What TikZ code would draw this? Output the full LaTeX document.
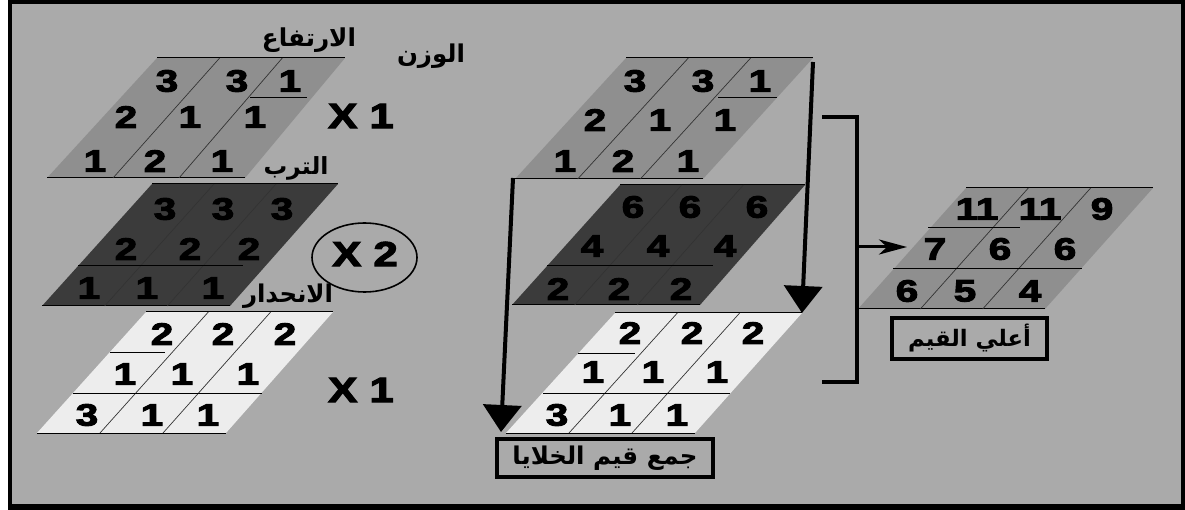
\documentclass[tikz,border=0pt]{standalone}
\usepackage{fontspec}
\setmainfont{Liberation Sans}
\newfontfamily\digfont{Liberation Sans}[BoldFont={Liberation Sans Bold}, BoldFeatures={FakeBold=3}]
\newfontfamily\arabicfont[Script=Arabic]{DejaVu Sans}
\TeXXeTstate=1
\usetikzlibrary{arrows.meta,calc,shapes.geometric}
\definecolor{bgc}{gray}{0.665}
\definecolor{midc}{gray}{0.56}
\definecolor{darkc}{gray}{0.23}
\definecolor{lightc}{gray}{0.93}
\definecolor{colc}{gray}{0.2}
\newcommand{\dgt}[4]{\node[dig] (#1) at (#2,#3) {\scalebox{1.3}[1]{#4}};}
% name, fill, xtl, xtr, ytop, xbl, xbr, ybot
\newcommand{\pgram}[8]{%
  \fill[#2] (#3,#5) -- (#4,#5) -- (#7,#8) -- (#6,#8) -- cycle;
  \draw[edge] (#3,#5) -- (#4,#5);
  \draw[edge] (#6,#8) -- (#7,#8);
  \draw[colline] ($(#3,#5)!1/3!(#4,#5)$) -- ($(#6,#8)!1/3!(#7,#8)$);
  \draw[colline] ($(#3,#5)!2/3!(#4,#5)$) -- ($(#6,#8)!2/3!(#7,#8)$);
}
\tikzset{
  dig/.style={inner sep=0pt, font=\fontsize{31}{33}\digfont\bfseries},
  xlab/.style={inner sep=0pt, font=\fontsize{35}{37}\digfont\bfseries},
  lab/.style={inner sep=0pt, font=\arabicfont\bfseries},
  edge/.style={line width=1pt, black},
  colline/.style={line width=0.7pt, colc},
  rowline/.style={line width=1pt, black},
  bigarrow/.style={line width=4pt, -{Triangle[width=38pt,length=27pt]}},
  smallarrow/.style={line width=3pt, -{Stealth[width=15pt,length=28pt,inset=8pt]}},
  bracket/.style={line width=3.5pt},
  lbox/.style={draw, line width=3.5pt, fill=bgc, inner sep=0pt},
}
\begin{document}
\begin{tikzpicture}[x=1pt,y=-1pt]
% frame
\fill[white] (0,0) rectangle (1185,510);
\fill[black] (8,0) rectangle (1185,510);
\fill[bgc] (12,4) rectangle (1181,504);
\useasboundingbox (0,0) rectangle (1185,510);

% left stack
\pgram{L1}{midc}{157}{345}{58}{47}{245}{178}
\draw[rowline] (250,98) -- (307,98);
\pgram{L2}{darkc}{152}{338}{184}{42}{230}{306}
\draw[rowline] (78,266) -- (243,266);
\pgram{L3}{lightc}{146}{333}{312}{37}{226}{433}
\draw[rowline] (110,352) -- (165,352);
\draw[rowline] (73,393) -- (262,393);

\dgt{La1}{167}{81}{3} \dgt{La2}{237}{81}{3} \dgt{La3}{290}{81}{1}
\dgt{La4}{126}{117}{2} \dgt{La5}{190}{117}{1} \dgt{La6}{255}{117}{1}
\dgt{La7}{95}{161}{1} \dgt{La8}{155}{161}{2} \dgt{La9}{222}{161}{1}

\dgt{Lb1}{165}{209}{3} \dgt{Lb2}{223}{209}{3} \dgt{Lb3}{282}{209}{3}
\dgt{Lb4}{126}{249}{2} \dgt{Lb5}{190}{249}{2} \dgt{Lb6}{249}{249}{2}
\dgt{Lb7}{89}{288}{1} \dgt{Lb8}{147}{288}{1} \dgt{Lb9}{213}{288}{1}

\dgt{Lc1}{162}{334}{2} \dgt{Lc2}{223}{334}{2} \dgt{Lc3}{285}{334}{2}
\dgt{Lc4}{125}{374}{1} \dgt{Lc5}{182}{374}{1} \dgt{Lc6}{248}{374}{1}
\dgt{Lc7}{87}{415}{3} \dgt{Lc8}{152}{415}{1} \dgt{Lc9}{208}{415}{1}

% labels
\node[lab] (tIrt) at (309,40) {\resizebox{94pt}{!}{\beginR الارتفاع\endR}};
\node[lab] (tWzn) at (431,56) {\resizebox{68pt}{!}{\beginR الوزن\endR}};
\node[lab] (tTrb) at (296,168) {\resizebox{65pt}{!}{\beginR الترب\endR}};
\node[lab] (tInh) at (288,296) {\resizebox{90pt}{!}{\beginR الانحدار\endR}};

% multipliers
\node[xlab] (m1) at (361,116) {\scalebox{1.25}[1]{X 1}};
\node[ellipse, draw, line width=1.6pt, minimum width=105pt, minimum height=69pt, inner sep=0pt] (circ) at (364.5,257.5) {};
\node[xlab] (m2) at (365,254) {\scalebox{1.25}[1]{X 2}};
\node[xlab] (m3) at (361,390) {\scalebox{1.25}[1]{X 1}};

% middle stack
\pgram{M1}{midc}{626}{813}{58}{515}{703}{179}
\draw[rowline] (718,98) -- (777,98);
\pgram{M2}{darkc}{620}{805}{185}{512}{700}{305}
\draw[rowline] (547,266) -- (713,266);
\pgram{M3}{lightc}{615}{802}{313}{506}{695}{433}
\draw[rowline] (578,353) -- (635,353);
\draw[rowline] (543,393) -- (730,393);

\dgt{Ma1}{635}{81}{3} \dgt{Ma2}{703}{81}{3} \dgt{Ma3}{760}{81}{1}
\dgt{Ma4}{595}{120}{2} \dgt{Ma5}{660}{120}{1} \dgt{Ma6}{725}{120}{1}
\dgt{Ma7}{565}{161}{1} \dgt{Ma8}{623}{161}{2} \dgt{Ma9}{688}{161}{1}

\dgt{Mb1}{633}{207}{6} \dgt{Mb2}{690}{207}{6} \dgt{Mb3}{757}{207}{6}
\dgt{Mb4}{592}{246}{4} \dgt{Mb5}{658}{246}{4} \dgt{Mb6}{725}{246}{4}
\dgt{Mb7}{558}{289}{2} \dgt{Mb8}{619}{289}{2} \dgt{Mb9}{681}{289}{2}

\dgt{Mc1}{630}{333}{2} \dgt{Mc2}{692}{333}{2} \dgt{Mc3}{753}{333}{2}
\dgt{Mc4}{593}{372}{1} \dgt{Mc5}{653}{372}{1} \dgt{Mc6}{717}{372}{1}
\dgt{Mc7}{557}{415}{3} \dgt{Mc8}{620}{415}{1} \dgt{Mc9}{677}{415}{1}

% arrows
\coordinate (raS) at (813,62);
\coordinate (raE) at (802,313);
\draw[bigarrow] (raS) -- (raE);
\coordinate (laS) at (513,178);
\coordinate (laE) at (501,432);
\draw[bigarrow] (laS) -- (laE);

\node[lbox, minimum width=216pt, minimum height=38pt] (sumbox) at (605,458) {};
\node[lab] (sumtxt) at (605,458) {\resizebox{185pt}{!}{\beginR جمع قيم الخلايا\endR}};

% bracket
\coordinate (b1) at (822,117);
\coordinate (b2) at (857,117);
\coordinate (b3) at (857,382);
\coordinate (b4) at (822,382);
\draw[bracket] (b1) -- (b2) -- (b3) -- (b4);
\coordinate (bm) at (857,247);
\coordinate (rin) at (907,247);
\draw[smallarrow] (bm) -- (rin);

% result grid
\pgram{R}{midc}{966}{1153}{188}{858}{1045}{309}
\draw[rowline] (928,228) -- (1020,228);
\draw[rowline] (893,269) -- (1082,269);
\dgt{Ra1}{977}{209}{11} \dgt{Ra2}{1040}{209}{11} \dgt{Ra3}{1102}{209}{9}
\dgt{Ra4}{935}{249}{7} \dgt{Ra5}{1000}{249}{6} \dgt{Ra6}{1065}{249}{6}
\dgt{Ra7}{907}{291}{6} \dgt{Ra8}{965}{291}{5} \dgt{Ra9}{1030}{291}{4}

\node[lbox, minimum width=155pt, minimum height=41pt] (maxbox) at (969.5,338.5) {};
\node[lab] (maxtxt) at (969.5,338.5) {\resizebox{123pt}{!}{\beginR أعلي القيم\endR}};
\end{tikzpicture}
\end{document}
